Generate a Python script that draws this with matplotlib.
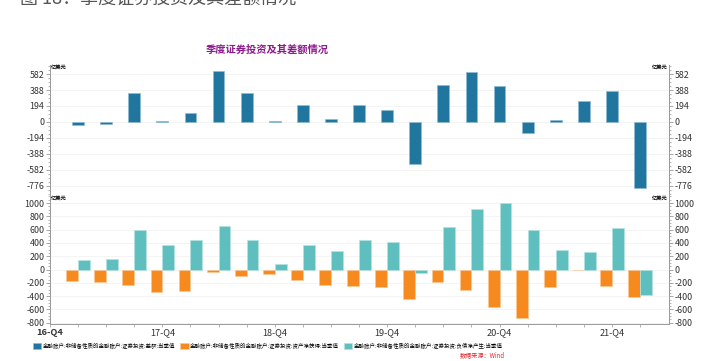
import numpy as np
import matplotlib.pyplot as plt
from matplotlib.ticker import FixedLocator, AutoMinorLocator
from matplotlib.patches import Patch

plt.rcParams['font.family'] = ['Noto Sans CJK SC', 'DejaVu Sans']
plt.rcParams['axes.unicode_minus'] = False

# quarters 17-Q1 .. 22-Q1 (index 1..21, 16-Q4 = index 0)
quarters = ["16-Q4", "17-Q1", "17-Q2", "17-Q3", "17-Q4", "18-Q1", "18-Q2", "18-Q3",
            "18-Q4", "19-Q1", "19-Q2", "19-Q3", "19-Q4", "20-Q1", "20-Q2", "20-Q3",
            "20-Q4", "21-Q1", "21-Q2", "21-Q3", "21-Q4", "22-Q1"]
tick_labels = ["16-Q4", "17-Q4", "18-Q4", "19-Q4", "20-Q4", "21-Q4"]

# 差额
net = [-35, -28, 354, 15, 106, 619, 346, 15, 200, 37, 204, 151, -513, 448, 602,
       435, -130, 28, 256, 374, -806]
# 资产净获得
assets = [-177, -182, -237, -343, -328, -35, -91, -60, -157, -227, -242, -258, -449,
          -187, -308, -566, -727, -268, -10, -252, -409]
# 负债净产生
liabs = [146, 157, 596, 364, 439, 656, 439, 86, 364, 273, 444, 419, -56, 636, 909,
         1000, 601, 298, 268, 621, -389]

top_ticks = [582, 388, 194, 0, -194, -388, -582, -776]
bot_ticks = [1000, 800, 600, 400, 200, 0, -200, -400, -600, -800]

c_net = '#21769f'
c_ast = '#f68a1e'
c_lia = '#5fbfbe'

W, H = 702, 361
fig = plt.figure(figsize=(W / 100, H / 100), dpi=100)

x = np.arange(1, len(net) + 1)
bw = 0.42

def style(ax, ticks, ylim):
    ax.set_xlim(0, 22.03)
    ax.set_ylim(*ylim)
    ax.yaxis.set_major_locator(FixedLocator(ticks))
    ax.yaxis.set_minor_locator(AutoMinorLocator(4))
    ax.tick_params(axis='y', which='both', left=True, right=True, labelleft=True,
                   labelright=True, direction='out', colors='#999999',
                   labelcolor='#333333', labelsize=6.4, pad=1)
    ax.tick_params(axis='y', which='major', length=3, width=0.6)
    ax.tick_params(axis='y', which='minor', length=1.5, width=0.5)
    ax.spines['top'].set_visible(False)
    for s in ['left', 'right', 'bottom']:
        ax.spines[s].set_color('#999999')
        ax.spines[s].set_linewidth(0.7)
    ax.grid(axis='y', color='#f2f2f2', linewidth=0.6)
    ax.set_axisbelow(True)

top = fig.add_axes([50 / W, 1 - 196 / H, 619 / W, 131 / H])
top.bar(x, net, width=bw, color=c_net, edgecolor='#8fbcd4', linewidth=0.5)
style(top, top_ticks, (-900, 692))
top.spines['bottom'].set_visible(False)
top.tick_params(axis='x', bottom=False, labelbottom=False)

bot = fig.add_axes([50 / W, 1 - 324 / H, 619 / W, 128 / H])
bot.bar(x - bw / 2, assets, width=bw, color=c_ast, edgecolor='#fbc795', linewidth=0.5)
bot.bar(x + bw / 2, liabs, width=bw, color=c_lia, edgecolor='#b5e3e2', linewidth=0.5)
style(bot, bot_ticks, (-818, 1106))
bot.set_xticks(np.arange(0, 22))
bot.set_xticklabels([q if q in tick_labels else '' for q in quarters])
bot.tick_params(axis='x', length=2, width=0.5, colors='#999999',
                labelcolor='#333333', labelsize=6.6, pad=1)
bot.get_xticklabels()[0].set_fontweight('bold')

# unit labels
for ax in (top, bot):
    ax.text(0.002, 1.0, '亿美元', transform=ax.transAxes, fontsize=3.8,
            ha='left', va='top', fontweight='bold')
    ax.text(0.998, 1.0, '亿美元', transform=ax.transAxes, fontsize=3.8,
            ha='right', va='top', fontweight='bold')

# cut-off caption at very top
fig.text(20 / W, 1 - 8 / H, '图 18：季度证券投资及其差额情况', fontsize=13,
         color='#555555', ha='left', va='bottom')

fig.text(267 / W, 1 - 50 / H, '季度证券投资及其差额情况', fontsize=7.4,
         color='#8c1c8c', fontweight='bold', ha='center', va='center')

handles = [Patch(facecolor=c_net, edgecolor='#8fbcd4', linewidth=0.5),
           Patch(facecolor=c_ast, edgecolor='#fbc795', linewidth=0.5),
           Patch(facecolor=c_lia, edgecolor='#b5e3e2', linewidth=0.5)]
names = ['金融账户:非储备性质的金融账户:证券投资:差额:当季值',
         '金融账户:非储备性质的金融账户:证券投资:资产净获得:当季值',
         '金融账户:非储备性质的金融账户:证券投资:负债净产生:当季值']
fig.legend(handles, names, loc='center', bbox_to_anchor=(268 / W, 1 - 346 / H),
           ncol=3, fontsize=3.95, frameon=False, handlelength=1.5, handleheight=1.5,
           handletextpad=0.3, columnspacing=0.9, borderpad=0)

fig.text(505 / W, 1 - 355 / H, '数据来源：Wind', fontsize=4.4, color='#e8262d',
         style='italic', ha='right', va='center')

fig.savefig('out.png', dpi=100)
